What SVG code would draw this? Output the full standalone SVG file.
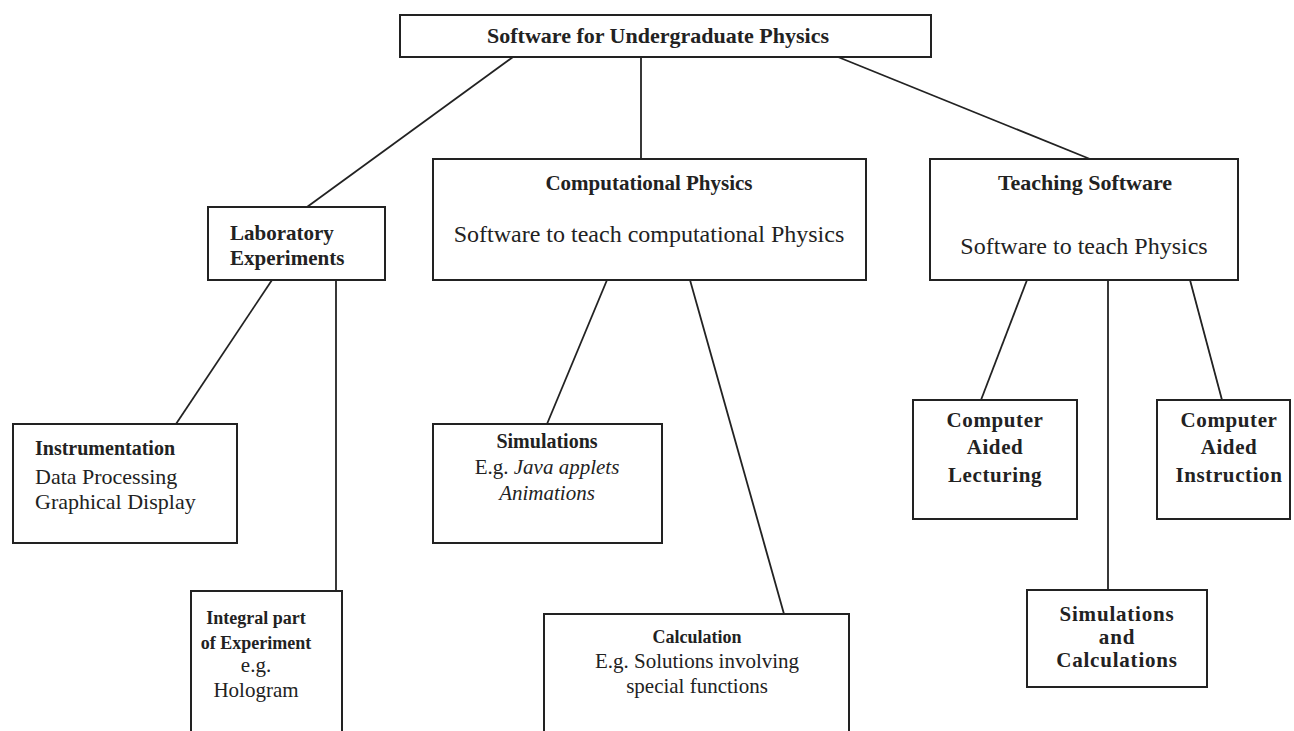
<svg xmlns="http://www.w3.org/2000/svg" width="1294" height="731" viewBox="0 0 1294 731">
<style>
rect{fill:#fff;stroke:#222;stroke-width:2}
line{stroke:#222;stroke-width:1.8}
text{font-family:"Liberation Serif","Times New Roman",serif;fill:#222}
.b{font-weight:bold;font-size:21px}
.n{font-size:21px}
.m{text-anchor:middle}
.i{font-style:italic}
</style>
<rect x="0" y="0" width="1294" height="731" style="stroke:none"/>
<g id="connectors">
<line x1="513" y1="57" x2="307" y2="207"/>
<line x1="641" y1="57" x2="641" y2="159"/>
<line x1="838" y1="57" x2="1090" y2="159"/>
<line x1="272" y1="280" x2="176" y2="424"/>
<line x1="336" y1="280" x2="336" y2="591"/>
<line x1="607" y1="280" x2="547" y2="424"/>
<line x1="690" y1="280" x2="784" y2="614"/>
<line x1="1027" y1="280" x2="981" y2="400"/>
<line x1="1108" y1="280" x2="1108" y2="590"/>
<line x1="1190" y1="280" x2="1222" y2="400"/>
</g>
<g id="root">
<rect x="400" y="15" width="531" height="42"/>
<text class="b m" x="658" y="43" style="font-size:22px">Software for Undergraduate Physics</text>
</g>
<g id="lab">
<rect x="208" y="207" width="177" height="73"/>
<text class="b" x="230" y="240">Laboratory</text>
<text class="b" x="230" y="265">Experiments</text>
</g>
<g id="comp">
<rect x="433" y="159" width="433" height="121"/>
<text class="b m" x="649" y="190">Computational Physics</text>
<text class="n m" x="649" y="242" style="font-size:24px">Software to teach computational Physics</text>
</g>
<g id="teach">
<rect x="930" y="159" width="308" height="121"/>
<text class="b m" x="1085" y="190" style="font-size:22px">Teaching Software</text>
<text class="n m" x="1084" y="254" style="font-size:24px">Software to teach Physics</text>
</g>
<g id="instr">
<rect x="13" y="424" width="224" height="119"/>
<text class="b" x="35" y="455" style="font-size:20px">Instrumentation</text>
<text class="n" x="35" y="484" style="font-size:22px">Data Processing</text>
<text class="n" x="35" y="509" style="font-size:22px">Graphical Display</text>
</g>
<g id="integral">
<rect x="191" y="591" width="151" height="150"/>
<text class="b m" x="256" y="624" style="font-size:18px">Integral part</text>
<text class="b m" x="256" y="649" style="font-size:18px">of Experiment</text>
<text class="n m" x="256" y="672">e.g.</text>
<text class="n m" x="256" y="697">Hologram</text>
</g>
<g id="sims">
<rect x="433" y="424" width="229" height="119"/>
<text class="b m" x="547" y="448" style="font-size:20px">Simulations</text>
<text class="n m" x="547" y="474">E.g. <tspan class="i">Java applets</tspan></text>
<text class="n m i" x="547" y="500">Animations</text>
</g>
<g id="calc">
<rect x="544" y="614" width="305" height="130"/>
<text class="b m" x="697" y="643" style="font-size:18px">Calculation</text>
<text class="n m" x="697" y="668">E.g. Solutions involving</text>
<text class="n m" x="697" y="693">special functions</text>
</g>
<g id="cal">
<rect x="913" y="400" width="164" height="119"/>
<text class="b m" x="995" y="427" style="letter-spacing:0.6px">Computer</text>
<text class="b m" x="995" y="454" style="letter-spacing:0.6px">Aided</text>
<text class="b m" x="995" y="482" style="letter-spacing:0.6px">Lecturing</text>
</g>
<g id="cai">
<rect x="1157" y="400" width="133" height="119"/>
<text class="b m" x="1229" y="427" style="letter-spacing:0.6px">Computer</text>
<text class="b m" x="1229" y="454" style="letter-spacing:0.6px">Aided</text>
<text class="b m" x="1229" y="482" style="letter-spacing:0.6px">Instruction</text>
</g>
<g id="simcalc">
<rect x="1027" y="590" width="180" height="97"/>
<text class="b m" x="1117" y="621" style="letter-spacing:0.8px">Simulations</text>
<text class="b m" x="1117" y="644" style="letter-spacing:0.8px">and</text>
<text class="b m" x="1117" y="667" style="letter-spacing:0.8px">Calculations</text>
</g>
</svg>
